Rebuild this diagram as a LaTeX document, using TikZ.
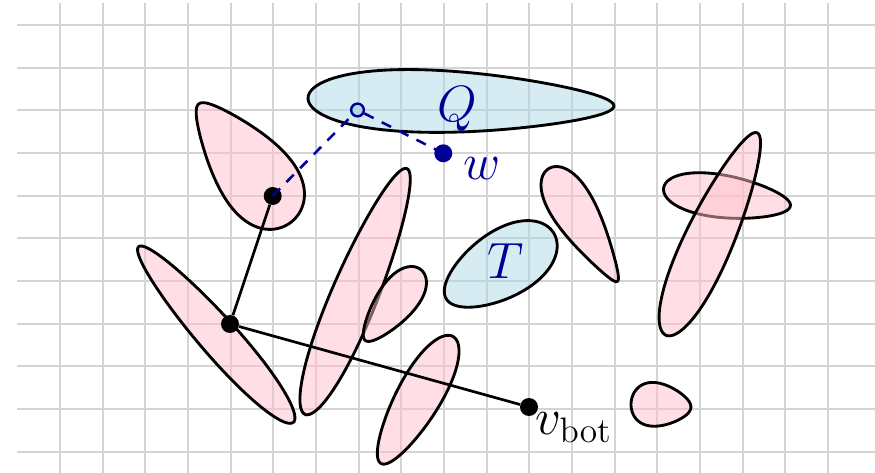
\documentclass[tikz,border=0pt]{standalone}
\usetikzlibrary{calc}
\definecolor{gridc}{RGB}{212,212,212}
\definecolor{pinkc}{RGB}{255,192,203}
\definecolor{bluec}{RGB}{173,216,230}
\definecolor{navyc}{RGB}{0,0,150}
\tikzset{
  gridline/.style={draw=gridc, line width=1.3pt},
  pinkblob/.style={draw=black, line width=1.9pt, fill=pinkc, fill opacity=0.5},
  blueblob/.style={draw=black, line width=1.9pt, fill=bluec, fill opacity=0.5},
  dotnode/.style={circle, fill=black, inner sep=0pt, minimum size=12pt},
  bluedot/.style={circle, fill=navyc, inner sep=0pt, minimum size=12pt},
  opencirc/.style={circle, draw=navyc, fill=bluec, line width=1.6pt, inner sep=0pt, minimum size=8.5pt},
  edgeline/.style={draw=black, line width=1.8pt},
  bluedash/.style={draw=navyc, line width=1.7pt, dash pattern=on 7pt off 6pt},
  bigtext/.style={font=\huge, scale=1.64, inner sep=0pt},
}
% style, cx, cy, rotation, half length, half width, egg factor
\newcommand{\eggshape}[7]{%
  \path[#1, shift={(#2,#3)}, rotate=#4] plot[domain=0:360, samples=120, variable=\t]
    ({#5*cos(\t)}, {#6*sin(\t)*(1+#7*cos(\t))}) -- cycle;}
\begin{document}
\begin{tikzpicture}[x=0.023436cm, y=-0.023436cm]
\useasboundingbox (0,0) rectangle (875,473);
% grid
\foreach \k in {0,...,10} {
  \draw[gridline] (17.4,{25+42.67*\k}) -- (875,{25+42.67*\k});
}
\foreach \k in {0,...,18} {
  \draw[gridline] ({60+42.67*\k},3.3) -- ({60+42.67*\k},473);
}
% pink shapes (left and middle)
\eggshape{pinkblob}{245}{163}{-52}{75}{35}{0.45}
\eggshape{pinkblob}{216}{334.5}{-48.6}{117}{19}{0.1}
\eggshape{pinkblob}{356}{291.5}{247.5}{133}{23}{0.12}
\eggshape{pinkblob}{393}{305}{52}{45}{19}{0.3}
\eggshape{pinkblob}{417}{400}{60.4}{73}{22}{0.15}
% blue shapes
\eggshape{blueblob}{461}{102}{178.5}{153}{30}{0.3}
\eggshape{blueblob}{500}{266}{31.5}{63}{33}{0.15}
% pink shapes (right)
\eggshape{pinkblob}{583}{225}{121.3}{66}{20}{0.5}
\eggshape{pinkblob}{727}{197}{172}{64}{21}{0.2}
\eggshape{pinkblob}{711.5}{234}{245.7}{111}{24}{0.2}
\eggshape{pinkblob}{661}{405}{175}{30}{21}{0.3}
% labels
\node[bigtext, text=navyc, anchor=base] (qlab) at (457,122) {$Q$};
\node[bigtext, text=navyc, anchor=base] (tlab) at (506,279) {$T$};
% points
\node[dotnode] (a) at (272.7,196) {};
\node[dotnode] (b) at (230,324) {};
\node[dotnode] (v) at (529,407) {};
\node[bluedot] (w) at (443.3,153.3) {};
\node[opencirc] (o) at (357.5,110) {};
\draw[edgeline] (a) -- (b) -- (v);
\draw[bluedash] (a.center) -- (o) -- (w.center);
\node[bigtext, text=navyc, anchor=base] (wlab) at (482,180) {$w$};
\node[bigtext, anchor=base west] (vlab) at (535,435) {$v_{\mathrm{bot}}$};
\end{tikzpicture}
\end{document}
